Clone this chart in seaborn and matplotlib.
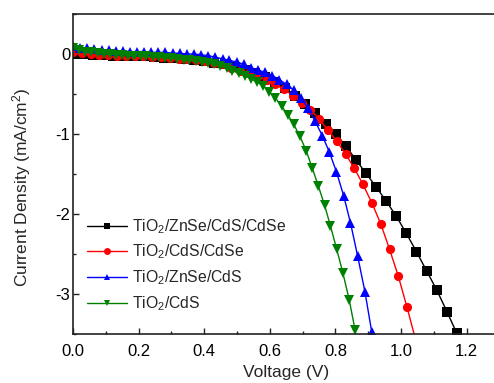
import numpy as np
import pandas as pd
import matplotlib
matplotlib.use("Agg")
import matplotlib.pyplot as plt
import seaborn as sns

# ---------------- data ----------------
series_names = [r"TiO$_2$/ZnSe/CdS/CdSe", r"TiO$_2$/CdS/CdSe",
                r"TiO$_2$/ZnSe/CdS", r"TiO$_2$/CdS"]

v_black = [0, 0.031, 0.062, 0.092, 0.123, 0.154, 0.185, 0.216, 0.246, 0.277,
           0.308, 0.339, 0.370, 0.400, 0.431, 0.462, 0.493, 0.524, 0.554, 0.585,
           0.616, 0.647, 0.678, 0.708, 0.739, 0.770, 0.801, 0.832, 0.862, 0.893,
           0.924, 0.955, 0.986, 1.016, 1.047, 1.078, 1.109, 1.140, 1.170]
j_black = [0.00, -0.00, -0.01, -0.01, -0.02, -0.02, -0.03, -0.03, -0.04, -0.05,
           -0.05, -0.06, -0.07, -0.09, -0.11, -0.13, -0.16, -0.20, -0.24, -0.29,
           -0.35, -0.43, -0.53, -0.63, -0.74, -0.87, -1.00, -1.15, -1.32, -1.49,
           -1.66, -1.84, -2.03, -2.24, -2.47, -2.71, -2.95, -3.22, -3.49]

v_red = [0, 0.027, 0.054, 0.080, 0.107, 0.134, 0.161, 0.188, 0.214, 0.241,
         0.268, 0.295, 0.322, 0.348, 0.375, 0.402, 0.429, 0.456, 0.482, 0.509,
         0.536, 0.563, 0.590, 0.616, 0.643, 0.670, 0.697, 0.724, 0.750, 0.777,
         0.804, 0.831, 0.858, 0.884, 0.911, 0.938, 0.965, 0.992, 1.018, 1.045]
j_red = [0.03, 0.01, 0.00, -0.01, -0.01, -0.02, -0.02, -0.03, -0.03, -0.04,
         -0.04, -0.05, -0.06, -0.06, -0.07, -0.09, -0.11, -0.13, -0.17, -0.21,
         -0.24, -0.28, -0.32, -0.38, -0.44, -0.52, -0.61, -0.70, -0.81, -0.95,
         -1.09, -1.25, -1.43, -1.63, -1.86, -2.12, -2.44, -2.78, -3.16, -3.58]

v_blue = [0, 0.022, 0.043, 0.065, 0.087, 0.109, 0.130, 0.152, 0.174, 0.195,
          0.217, 0.239, 0.260, 0.282, 0.304, 0.326, 0.347, 0.369, 0.391, 0.412,
          0.434, 0.456, 0.477, 0.499, 0.521, 0.543, 0.564, 0.586, 0.608, 0.629,
          0.651, 0.673, 0.694, 0.716, 0.738, 0.760, 0.781, 0.803, 0.825, 0.846,
          0.868, 0.890, 0.911]
j_blue = [0.10, 0.08, 0.07, 0.06, 0.05, 0.05, 0.04, 0.04, 0.03, 0.03,
          0.03, 0.02, 0.02, 0.02, 0.01, 0.01, 0.00, 0.00, -0.01, -0.02,
          -0.04, -0.06, -0.08, -0.10, -0.13, -0.17, -0.20, -0.23, -0.27, -0.32,
          -0.38, -0.45, -0.55, -0.67, -0.84, -1.02, -1.22, -1.47, -1.77, -2.11,
          -2.53, -2.97, -3.48]

v_green = [0, 0.019, 0.037, 0.056, 0.075, 0.094, 0.112, 0.131, 0.150, 0.168,
           0.187, 0.206, 0.224, 0.243, 0.262, 0.281, 0.299, 0.318, 0.337, 0.355,
           0.374, 0.393, 0.411, 0.430, 0.449, 0.468, 0.486, 0.505, 0.524, 0.542,
           0.561, 0.580, 0.598, 0.617, 0.636, 0.655, 0.673, 0.692, 0.711, 0.729,
           0.748, 0.767, 0.785, 0.804, 0.823, 0.842, 0.860]
j_green = [0.07, 0.05, 0.03, 0.02, 0.01, 0.00, -0.00, -0.01, -0.01, -0.02,
           -0.02, -0.03, -0.03, -0.04, -0.04, -0.05, -0.05, -0.06, -0.07, -0.08,
           -0.09, -0.10, -0.11, -0.13, -0.15, -0.18, -0.21, -0.24, -0.27, -0.31,
           -0.35, -0.40, -0.47, -0.55, -0.65, -0.76, -0.88, -1.03, -1.21, -1.42,
           -1.65, -1.89, -2.15, -2.44, -2.74, -3.07, -3.45]

x_ticks = [0.0, 0.2, 0.4, 0.6, 0.8, 1.0, 1.2]
y_ticks = [0, -1, -2, -3]

colors = ["#000000", "#ff0000", "#0000ff", "#008000"]
marker_shapes = ["s", "o", "^", "v"]

# ---------------- build table ----------------
frames = []
for name, v, j in zip(series_names,
                      [v_black, v_red, v_blue, v_green],
                      [j_black, j_red, j_blue, j_green]):
    frames.append(pd.DataFrame({"Voltage": v, "Current": j, "Sample": name}))
df = pd.concat(frames, ignore_index=True)

# ---------------- style ----------------
sns.set_theme(style="ticks")
plt.rcParams["font.family"] = ["Liberation Sans", "DejaVu Sans"]
plt.rcParams["mathtext.fontset"] = "custom"
plt.rcParams["mathtext.rm"] = "Liberation Sans"
plt.rcParams["mathtext.it"] = "Liberation Sans:italic"
plt.rcParams["mathtext.default"] = "regular"

fig = plt.figure(figsize=(4.94, 3.83), dpi=100)
ax = fig.add_axes([73 / 494, 1 - 334 / 383, 426.4 / 494, 320 / 383])

sns.lineplot(data=df, x="Voltage", y="Current", hue="Sample", style="Sample",
             hue_order=series_names, style_order=series_names,
             palette=dict(zip(series_names, colors)),
             markers=dict(zip(series_names, marker_shapes)),
             dashes=False, estimator=None, sort=False,
             linewidth=1.0, markersize=6.6, markeredgewidth=0,
             ax=ax)

ax.set_xlim(0, 1.3)
ax.set_ylim(-3.5, 0.5)
ax.set_xticks(x_ticks)
ax.set_xticklabels([f"{t:.1f}" for t in x_ticks])
ax.set_yticks(y_ticks)
ax.set_yticklabels([f"{t:d}" for t in y_ticks])
ax.xaxis.set_minor_locator(matplotlib.ticker.MultipleLocator(0.1))
ax.yaxis.set_minor_locator(matplotlib.ticker.MultipleLocator(0.5))
ax.tick_params(which="both", direction="in", labelsize=12, colors="#222222",
               labelcolor="black", width=1.0)
ax.tick_params(which="major", length=4.5)
ax.tick_params(which="minor", length=2.5)
ax.tick_params(axis="x", which="major", pad=7.5)
ax.tick_params(axis="y", which="major", pad=2)
for s in ax.spines.values():
    s.set_linewidth(1.2)
    s.set_color("#222222")

ax.set_xlabel("Voltage (V)", fontsize=12.5, labelpad=4)
ax.set_ylabel("Current Density (mA/cm$^2$)", fontsize=12.5)
ax.yaxis.set_label_coords(-0.094, 0.46)

sns.move_legend(ax, "center left", bbox_to_anchor=(0.019, 0.2156),
                frameon=False, title=None, fontsize=11.3,
                handlelength=2.5, handletextpad=0.35, labelspacing=0.45,
                borderaxespad=0)
leg = ax.get_legend()
for h in leg.legend_handles:
    h.set_markersize(5.0)

fig.savefig("out.png", dpi=100)
